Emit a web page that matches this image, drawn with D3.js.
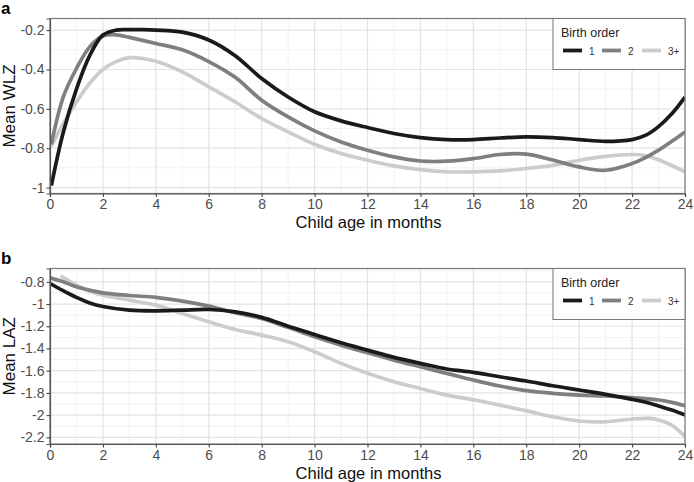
<!DOCTYPE html>
<html>
<head>
<meta charset="utf-8">
<script src="https://cdn.jsdelivr.net/npm/d3@7"></script>
<style>
  body { margin: 0; background: #fff; }
  svg text { font-family: "Liberation Sans", Arial, sans-serif; }
</style>
</head>
<body>
<svg id="chart" width="694" height="482"></svg>
<script>
// birth order groups
const groups = ["1", "2", "3+"];
const groupColors = ["#1a1a1a", "#7f7f7f", "#cccccc"];

// panel a: mean WLZ by age
const wlzAges = [0.05, 0.5, 1, 1.5, 2, 2.5, 3, 3.5, 4, 5, 6, 7, 8, 9, 10, 11, 12, 13, 14, 15, 16, 17, 18, 19, 20, 21, 22, 22.5, 23, 23.5, 24];
const wlz1 = [-0.99, -0.72, -0.50, -0.33, -0.225, -0.20, -0.198, -0.198, -0.20, -0.21, -0.25, -0.33, -0.446, -0.54, -0.615, -0.661, -0.695, -0.725, -0.746, -0.756, -0.756, -0.748, -0.742, -0.746, -0.756, -0.765, -0.756, -0.735, -0.69, -0.625, -0.54];
const wlz2 = [-0.78, -0.54, -0.395, -0.285, -0.23, -0.224, -0.237, -0.252, -0.268, -0.30, -0.36, -0.44, -0.556, -0.641, -0.712, -0.768, -0.81, -0.844, -0.865, -0.866, -0.853, -0.832, -0.83, -0.86, -0.895, -0.912, -0.878, -0.848, -0.81, -0.765, -0.717];
const wlz3 = [-0.79, -0.675, -0.565, -0.47, -0.40, -0.36, -0.34, -0.344, -0.358, -0.412, -0.488, -0.565, -0.649, -0.717, -0.78, -0.827, -0.861, -0.89, -0.909, -0.92, -0.92, -0.915, -0.903, -0.887, -0.861, -0.841, -0.832, -0.838, -0.858, -0.888, -0.92];

// panel b: mean LAZ by age
const lazAges = [0, 0.5, 1, 1.5, 2, 3, 4, 5, 6, 7, 8, 9, 10, 11, 12, 13, 14, 15, 16, 17, 18, 19, 20, 21, 22, 22.7, 23, 23.5, 24];
const laz1 = [-0.815, -0.88, -0.94, -0.99, -1.022, -1.055, -1.061, -1.055, -1.049, -1.07, -1.12, -1.199, -1.274, -1.349, -1.415, -1.48, -1.534, -1.585, -1.615, -1.655, -1.693, -1.736, -1.774, -1.813, -1.858, -1.895, -1.918, -1.955, -1.999];
const laz2 = [-0.764, -0.80, -0.845, -0.875, -0.899, -0.923, -0.94, -0.974, -1.019, -1.079, -1.13, -1.21, -1.295, -1.37, -1.439, -1.505, -1.565, -1.624, -1.684, -1.738, -1.78, -1.804, -1.82, -1.828, -1.843, -1.856, -1.864, -1.885, -1.915];
const laz3Ages = [0.4, 1, 1.5, 2, 3, 4, 5, 6, 7, 8, 9, 10, 11, 12, 13, 14, 15, 16, 17, 18, 19, 20, 21, 22, 22.7, 23, 23.5, 24];
const laz3 = [-0.746, -0.83, -0.885, -0.92, -0.965, -1.01, -1.085, -1.16, -1.229, -1.28, -1.34, -1.43, -1.534, -1.624, -1.70, -1.76, -1.82, -1.862, -1.91, -1.96, -2.015, -2.053, -2.06, -2.035, -2.03, -2.044, -2.09, -2.194];

const xTicks = d3.range(0, 25, 2);
const wlzTicks = [-1, -0.8, -0.6, -0.4, -0.2];
const lazTicks = [-2.2, -2, -1.8, -1.6, -1.4, -1.2, -1, -0.8];

const svg = d3.select("#chart");
const left = 50, right = 685;

function drawPanel(opts) {
    const { top, bottom, yDomain, yTicks, yMinor, letter, yTitle, series } = opts;
    const g = svg.append("g");

    const x = d3.scaleLinear().domain([0, 24]).range([left, right]);
    const y = d3.scaleLinear().domain(yDomain).range([bottom, top]);

    // minor grid
    g.append("g").selectAll("line")
        .data(d3.range(1, 24, 2))
        .join("line")
            .attr("x1", d => x(d)).attr("x2", d => x(d))
            .attr("y1", top).attr("y2", bottom)
            .attr("stroke", "#f2f2f2").attr("stroke-width", 1);
    g.append("g").selectAll("line")
        .data(yMinor)
        .join("line")
            .attr("x1", left).attr("x2", right)
            .attr("y1", d => y(d)).attr("y2", d => y(d))
            .attr("stroke", "#f2f2f2").attr("stroke-width", 1);

    // major grid
    g.append("g").selectAll("line")
        .data(xTicks)
        .join("line")
            .attr("x1", d => x(d)).attr("x2", d => x(d))
            .attr("y1", top).attr("y2", bottom)
            .attr("stroke", "#e3e3e3").attr("stroke-width", 1.2);
    g.append("g").selectAll("line")
        .data(yTicks)
        .join("line")
            .attr("x1", left).attr("x2", right)
            .attr("y1", d => y(d)).attr("y2", d => y(d))
            .attr("stroke", "#e3e3e3").attr("stroke-width", 1.2);

    // clip lines to panel
    const clipId = "clip-" + letter;
    svg.append("clipPath").attr("id", clipId)
        .append("rect")
            .attr("x", left).attr("y", top)
            .attr("width", right - left).attr("height", bottom - top);

    const line = d3.line()
        .x(d => x(d[0]))
        .y(d => y(d[1]))
        .curve(d3.curveCatmullRom.alpha(0.5));

    // draw light lines first so dark ones end up on top
    series.slice().reverse().forEach(s => {
        g.append("path")
            .attr("clip-path", `url(#${clipId})`)
            .attr("d", line(d3.zip(s.ages, s.values)))
            .attr("fill", "none")
            .attr("stroke", s.color)
            .attr("stroke-width", 3.7)
            .attr("stroke-linecap", "butt");
    });

    // panel border
    g.append("rect")
        .attr("x", left).attr("y", top)
        .attr("width", right - left).attr("height", bottom - top)
        .attr("fill", "none").attr("stroke", "#7a7a7a").attr("stroke-width", 1.2);

    // axes
    const xAxis = g.append("g")
        .attr("transform", `translate(0, ${bottom})`)
        .call(d3.axisBottom(x).tickValues(xTicks).tickSize(3.5).tickPadding(2.5).tickFormat(d3.format("d")));
    const yAxis = g.append("g")
        .attr("transform", `translate(${left}, 0)`)
        .call(d3.axisLeft(y).tickValues(yTicks).tickSize(3.5).tickPadding(2).tickFormat(d => String(d)));
    [xAxis, yAxis].forEach(a => {
        a.select(".domain").attr("stroke", "#555").attr("stroke-width", 1.2);
        a.selectAll(".tick line").attr("stroke", "#444").attr("stroke-width", 1.1);
        a.selectAll(".tick text")
            .attr("fill", "#4d4d4d")
            .style("font-size", "14px");
    });

    // axis titles
    g.append("text")
        .attr("x", (left + right) / 2 + 1)
        .attr("y", bottom + 34.5)
        .attr("text-anchor", "middle")
        .style("font-size", "16.5px")
        .attr("fill", "#111")
        .text("Child age in months");

    g.append("text")
        .attr("transform", `translate(15, ${(top + bottom) / 2}) rotate(-90)`)
        .attr("text-anchor", "middle")
        .style("font-size", "17px")
        .attr("fill", "#111")
        .text(yTitle);

    // panel letter
    g.append("text")
        .attr("x", 1)
        .attr("y", top - 5)
        .style("font-size", "17px")
        .style("font-weight", "bold")
        .text(letter);

    // legend
    const lgX = 553, lgW = right - lgX, lgH = 51;
    const lg = g.append("g").attr("transform", `translate(${lgX}, ${top})`);
    lg.append("rect")
        .attr("width", lgW).attr("height", lgH)
        .attr("fill", "#fff").attr("stroke", "#777").attr("stroke-width", 1);
    lg.append("text")
        .attr("x", 8).attr("y", 18)
        .style("font-size", "12.5px")
        .attr("fill", "#222")
        .text("Birth order");
    const keyX = [10, 49, 89];
    groups.forEach((name, i) => {
        lg.append("line")
            .attr("x1", keyX[i]).attr("x2", keyX[i] + 19)
            .attr("y1", 32).attr("y2", 32)
            .attr("stroke", groupColors[i]).attr("stroke-width", 3.8);
        lg.append("text")
            .attr("x", keyX[i] + 26).attr("y", 36)
            .style("font-size", "10px")
            .attr("fill", "#333")
            .text(name);
    });
}

drawPanel({
    top: 18.5, bottom: 193.5,
    yDomain: [-1.03, -0.141],
    yTicks: wlzTicks,
    yMinor: [-0.9, -0.7, -0.5, -0.3],
    letter: "a",
    yTitle: "Mean WLZ",
    series: [
        { ages: wlzAges, values: wlz1, color: groupColors[0] },
        { ages: wlzAges, values: wlz2, color: groupColors[1] },
        { ages: wlzAges, values: wlz3, color: groupColors[2] }
    ]
});

drawPanel({
    top: 268.5, bottom: 444,
    yDomain: [-2.26, -0.68],
    yTicks: lazTicks,
    yMinor: [-2.1, -1.9, -1.7, -1.5, -1.3, -1.1, -0.9, -0.7],
    letter: "b",
    yTitle: "Mean LAZ",
    series: [
        { ages: lazAges, values: laz1, color: groupColors[0] },
        { ages: lazAges, values: laz2, color: groupColors[1] },
        { ages: laz3Ages, values: laz3, color: groupColors[2] }
    ]
});
</script>
</body>
</html>
